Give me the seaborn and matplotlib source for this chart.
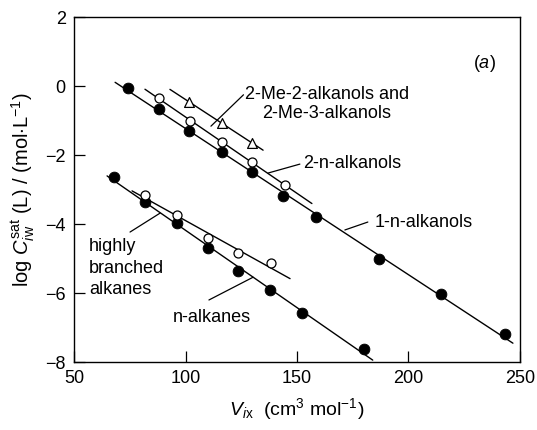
import numpy as np
import pandas as pd
import matplotlib
matplotlib.use("Agg")
import matplotlib.pyplot as plt
import seaborn as sns

# values: molar volume V_ix vs log C_iw^sat
alkanol1_x = [74.2, 88.1, 101.6, 116.4, 129.8, 143.7, 158.5, 186.8, 214.6, 243.3]
alkanol1_y = [-0.05, -0.67, -1.30, -1.91, -2.49, -3.19, -3.80, -5.01, -6.03, -7.19]
alkanol2_x = [88.1, 102.0, 116.4, 129.8, 144.6]
alkanol2_y = [-0.35, -1.01, -1.62, -2.20, -2.87]
me_alkanol_x = [101.6, 116.4, 129.8]
me_alkanol_y = [-0.46, -1.07, -1.65]
nalkane_x = [67.9, 81.8, 96.2, 110.1, 123.5, 137.9, 152.2, 180.0]
nalkane_y = [-2.64, -3.36, -3.97, -4.70, -5.36, -5.91, -6.58, -7.62]
branched_x = [81.8, 96.2, 110.1, 123.5, 138.3]
branched_y = [-3.16, -3.74, -4.41, -4.84, -5.13]

# x range covered by each fitted line
alkanol1_fit = [68.4, 246.9]
alkanol2_fit = [81.8, 156.7]
me_alkanol_fit = [93.0, 134.8]
nalkane_fit = [64.8, 184.0]
branched_fit = [76.0, 146.9]

sns.set_style("ticks")
plt.rcParams['font.family'] = ['Liberation Sans', 'DejaVu Sans']
plt.rcParams['mathtext.fontset'] = 'custom'
plt.rcParams['mathtext.rm'] = 'Liberation Sans'
plt.rcParams['mathtext.it'] = 'Liberation Sans:italic'
for key in ['text.color', 'axes.labelcolor', 'xtick.color', 'ytick.color', 'axes.edgecolor']:
    plt.rcParams[key] = 'black'

fig = plt.figure(figsize=(5.37, 4.30), dpi=100)
ax = fig.add_axes([0.138, 0.158, 0.830, 0.802])

# fitted lines
for xs, ys, rng in [(alkanol1_x, alkanol1_y, alkanol1_fit),
                    (alkanol2_x, alkanol2_y, alkanol2_fit),
                    (me_alkanol_x, me_alkanol_y, me_alkanol_fit),
                    (nalkane_x, nalkane_y, nalkane_fit),
                    (branched_x, branched_y, branched_fit)]:
    k, b = np.polyfit(xs, ys, 1)
    xr = np.array(rng)
    ax.plot(xr, k * xr + b, color='black', lw=1.0, zorder=1)

# data points
sns.scatterplot(x=alkanol1_x, y=alkanol1_y, ax=ax, marker='o', s=60,
                color='black', edgecolor='black', zorder=3)
sns.scatterplot(x=nalkane_x, y=nalkane_y, ax=ax, marker='o', s=60,
                color='black', edgecolor='black', zorder=3)
sns.scatterplot(x=alkanol2_x, y=alkanol2_y, ax=ax, marker='o', s=42,
                facecolor='white', edgecolor='black', linewidth=0.9, zorder=4)
sns.scatterplot(x=branched_x, y=branched_y, ax=ax, marker='o', s=42,
                facecolor='white', edgecolor='black', linewidth=0.9, zorder=4)
sns.scatterplot(x=me_alkanol_x, y=me_alkanol_y, ax=ax, marker='^', s=50,
                facecolor='white', edgecolor='black', linewidth=0.9, zorder=4)

# labels with leader lines
fs = 13
ax.text(126.7, -0.23, '2-Me-2-alkanols and', fontsize=fs, va='center')
ax.text(134.3, -0.80, '2-Me-3-alkanols', fontsize=fs, va='center')
ax.plot([126.0, 111.4], [-0.25, -1.16], color='black', lw=0.9)
ax.text(152.7, -2.23, '2-n-alkanols', fontsize=fs, va='center')
ax.plot([151.3, 137.0], [-2.26, -2.52], color='black', lw=0.9)
ax.text(185.0, -3.94, '1-n-alkanols', fontsize=fs, va='center')
ax.plot([181.8, 171.5], [-3.94, -4.17], color='black', lw=0.9)
ax.text(56.7, -5.28, 'highly\nbranched\nalkanes', fontsize=fs, va='center',
        linespacing=1.35)
ax.plot([75.1, 88.6], [-4.23, -3.68], color='black', lw=0.9)
ax.text(94.4, -6.70, 'n-alkanes', fontsize=fs, va='center')
ax.plot([110.5, 130.3], [-6.2, -5.54], color='black', lw=0.9)
ax.text(234.3, 0.67, '($a$)', fontsize=fs, va='center', ha='center')

ax.set_xlim(50, 250)
ax.set_ylim(-8, 2)
ax.set_xticks([50, 100, 150, 200, 250])
ax.set_yticks([-8, -6, -4, -2, 0, 2])
ax.tick_params(direction='in', length=8, width=0.9, labelsize=13, pad=6,
               top=False, right=False)
for sp in ax.spines.values():
    sp.set_linewidth(1.0)
    sp.set_visible(True)

ax.set_xlabel(r'$V_{i\mathrm{x}}$  (cm$^3$ mol$^{-1}$)', fontsize=14, labelpad=6)
ax.set_ylabel(r'log $C_{i\mathrm{w}}^{\mathrm{sat}}$ (L) / (mol$\cdot$L$^{-1}$)',
              fontsize=14.5, labelpad=6)

fig.savefig('out.png', dpi=100)
